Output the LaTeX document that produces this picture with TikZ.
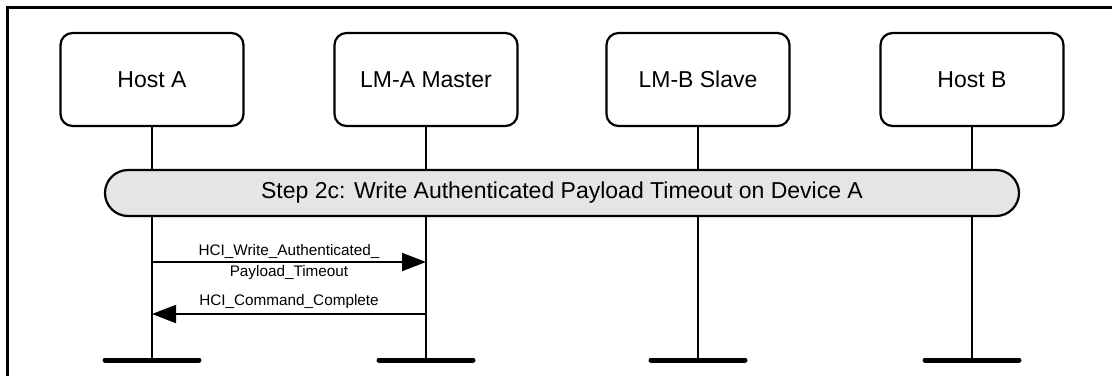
\documentclass[tikz,border=0pt]{standalone}
\usepackage{fontspec}
\setmainfont{Liberation Sans}
\usetikzlibrary{arrows.meta}
\begin{document}
\begin{tikzpicture}[x=1pt,y=-1pt,
  entity/.style={draw,line width=2.2pt,rounded corners=12pt,minimum width=183pt,minimum height=93pt,font=\fontsize{23}{27}\selectfont,inner sep=0pt},
  lifeline/.style={line width=2pt},
  endbar/.style={line width=5pt,line cap=round},
  stepbar/.style={draw,line width=2.2pt,fill=black!10,rounded corners=23pt,minimum height=46pt,minimum width=914pt,font=\fontsize{23}{27}\selectfont,inner sep=0pt},
  msg/.style={line width=2pt,-{Triangle[length=24pt,width=18pt]}},
  msglabel/.style={font=\fontsize{15.3}{18}\selectfont,inner sep=0pt}
]
\useasboundingbox (0,0) rectangle (1112,376);
\draw[line width=3pt] (7.5,376) -- (7.5,7.5) -- (1112,7.5);

\foreach \n/\x/\t in {ha/152/Host A, la/426/LM-A Master, lb/698/LM-B Slave, hb/972/Host B}{
  \node[entity] (\n) at (\x,79.5) {\t};
  \coordinate (\n e) at (\x,360);
  \coordinate (\n l) at ([xshift=-47pt]\n e);
  \coordinate (\n r) at ([xshift=47pt]\n e);
  \draw[lifeline] (\n.south) -- (\n e);
  \draw[endbar] (\n l) -- (\n r);
}

\node[stepbar] (step) at (562,193) {Step 2c: Write Authenticated Payload Timeout on Device A};

\coordinate (a1s) at (152,262);
\coordinate (a1e) at (426,262);
\coordinate (a2s) at (426,314);
\coordinate (a2e) at (152,314);
\draw[msg] (a1s) -- (a1e);
\node[msglabel] (l1a) at (289,251) {HCI\_Write\_Authenticated\_};
\node[msglabel] (l1b) at (289,273) {Payload\_Timeout};
\draw[msg] (a2s) -- (a2e);
\node[msglabel] (l2) at (289,302) {HCI\_Command\_Complete};
\end{tikzpicture}
\end{document}
